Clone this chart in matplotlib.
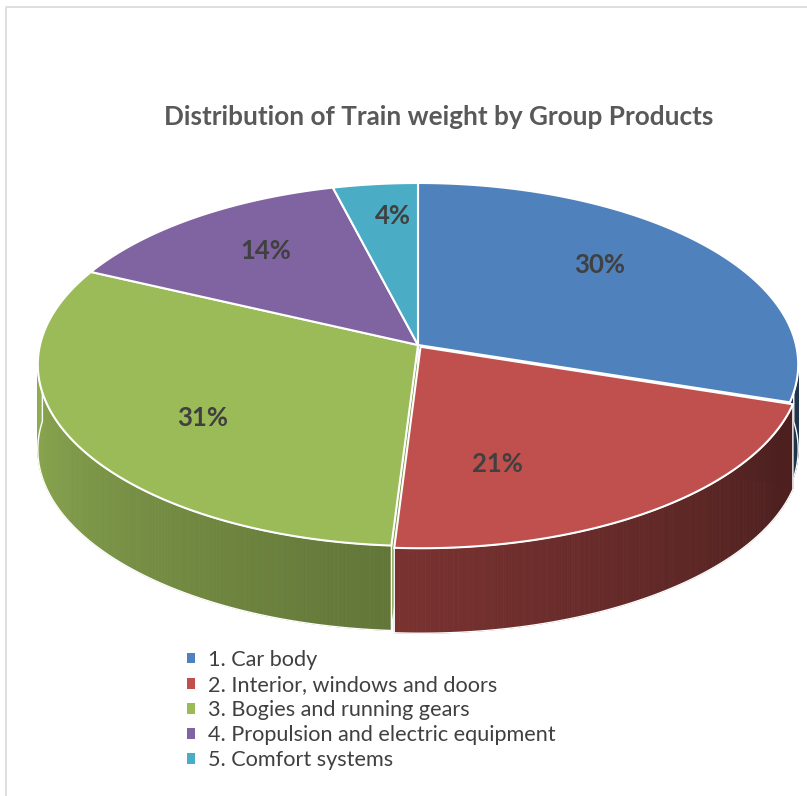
import numpy as np
import matplotlib.pyplot as plt
from matplotlib.colors import to_rgb
from matplotlib.patches import Polygon, Patch

groups = ['1. Car body', '2. Interior, windows and doors', '3. Bogies and running gears',
          '4. Propulsion and electric equipment', '5. Comfort systems']
shares = [30, 21, 31, 14, 4]
colors = ['#4F81BD', '#C0504D', '#9BBB59', '#8064A2', '#4BACC6']
title = 'Distribution of Train weight by Group Products'

W, H = 807, 796

# 3D pie geometry, in pixels
CX, CY = 418, 345          # centre of the top face
RX, RY = 378, 179.4        # radii of the top face
PERSP = 0.1074             # front-to-back perspective
DEPTH = 85                 # thickness of the pie
explode = [0, 0.012, 0, 0, 0]
label_r = [0.69, 0.64, 0.67, 0.70, 0.78]
label_turn = [7, -17, 5, -2, -2]

plt.rcParams['font.family'] = ['Lato', 'DejaVu Sans']


def project(x, y, z=0.0):
    w = 1 + PERSP * y
    return CX + RX * x / w, CY - RY * y / w - DEPTH * z


def shade(color, theta):
    t = np.degrees(theta) % 360
    f = min(max(0.92 - 0.00335 * (t - 180), 0.40), 1)
    return tuple(c * f for c in to_rgb(color))


fig = plt.figure(figsize=(W / 100, H / 100), dpi=100)
ax = fig.add_axes([0, 0, 1, 1])
ax.set_xlim(0, W)
ax.set_ylim(H, 0)
ax.axis('off')

# chart area border
ax.plot([6, 6, W], [H, 7, 7], color='#d9d9d9', lw=1.2)

n = len(shares)
total = sum(shares)
cum = np.concatenate([[0], np.cumsum(shares)])
starts = np.radians(90 - 360 * cum[:-1] / total)
ends = np.radians(90 - 360 * cum[1:] / total)
cam = np.array([0, -1 / PERSP])

tops, walls, cuts = [], [], []
for i, (t0, t1) in enumerate(zip(starts, ends)):
    mid = (t0 + t1) / 2
    ox, oy = explode[i] * np.cos(mid), explode[i] * np.sin(mid)
    th = np.linspace(t0, t1, 200)
    rx, ry = ox + np.cos(th), oy + np.sin(th)

    top = [project(ox, oy)] + [project(a, b) for a, b in zip(rx, ry)]
    tops.append((top, colors[i]))

    # radial cut faces: only where a neighbour is pulled out, and only if facing the camera
    neighbours = (explode[(i - 1) % n], explode[(i + 1) % n])
    for t, side, nb in ((t0, 1, neighbours[0]), (t1, -1, neighbours[1])):
        if nb == explode[i]:
            continue
        nrm = np.array([np.cos(t + side * np.pi / 2), np.sin(t + side * np.pi / 2)])
        p = np.array([ox + 0.5 * np.cos(t), oy + 0.5 * np.sin(t)])
        if nrm @ (cam - p) > 0:
            ex, ey = ox + np.cos(t), oy + np.sin(t)
            face = [project(ox, oy), project(ex, ey), project(ex, ey, -1), project(ox, oy, -1)]
            cuts.append((face, shade(colors[i], np.radians(205))))

    # outer wall on the front half
    front = np.sin(th) < 0.05
    if front.sum() > 1:
        idx = np.where(front)[0]
        quads = []
        for j in idx[:-1]:
            q = [project(rx[j], ry[j]), project(rx[j + 1], ry[j + 1]),
                 project(rx[j + 1], ry[j + 1], -1), project(rx[j], ry[j], -1)]
            quads.append((q, shade(colors[i], (th[j] + th[j + 1]) / 2)))
        outline = [project(rx[j], ry[j]) for j in idx] + \
                  [project(rx[j], ry[j], -1) for j in idx[::-1]]
        walls.append((quads, outline))

for face, c in cuts:
    ax.add_patch(Polygon(face, closed=True, facecolor=c, edgecolor='white', lw=1))
for quads, outline in walls:
    for q, c in quads:
        ax.add_patch(Polygon(q, closed=True, facecolor=c, edgecolor=c, lw=0.6))
    ax.add_patch(Polygon(outline, closed=True, facecolor='none', edgecolor='white', lw=1))
for top, c in tops:
    ax.add_patch(Polygon(top, closed=True, facecolor=c, edgecolor='white', lw=1.5))

# percentage labels
for i, (t0, t1) in enumerate(zip(starts, ends)):
    mid = (t0 + t1) / 2
    a = mid + np.radians(label_turn[i])
    x = explode[i] * np.cos(mid) + label_r[i] * np.cos(a)
    y = explode[i] * np.sin(mid) + label_r[i] * np.sin(a)
    u, v = project(x, y)
    ax.text(u, v, f'{shares[i]}%', ha='center', va='center', fontsize=18.5,
            fontweight='bold', color='#404040')

ax.text(439, 117, title, ha='center', va='center', fontsize=18.8,
        fontweight='bold', color='#595959')

handles = [Patch(facecolor=c, edgecolor='none') for c in colors]
ax.legend(handles, groups, loc='upper left', bbox_to_anchor=(187 / W, 1 - 650 / H),
          frameon=False, fontsize=15.6, handlelength=0.37, handleheight=0.37,
          handletextpad=0.6, labelspacing=0.235, labelcolor='#404040',
          borderpad=0, borderaxespad=0)

fig.savefig('out.png', dpi=100)
